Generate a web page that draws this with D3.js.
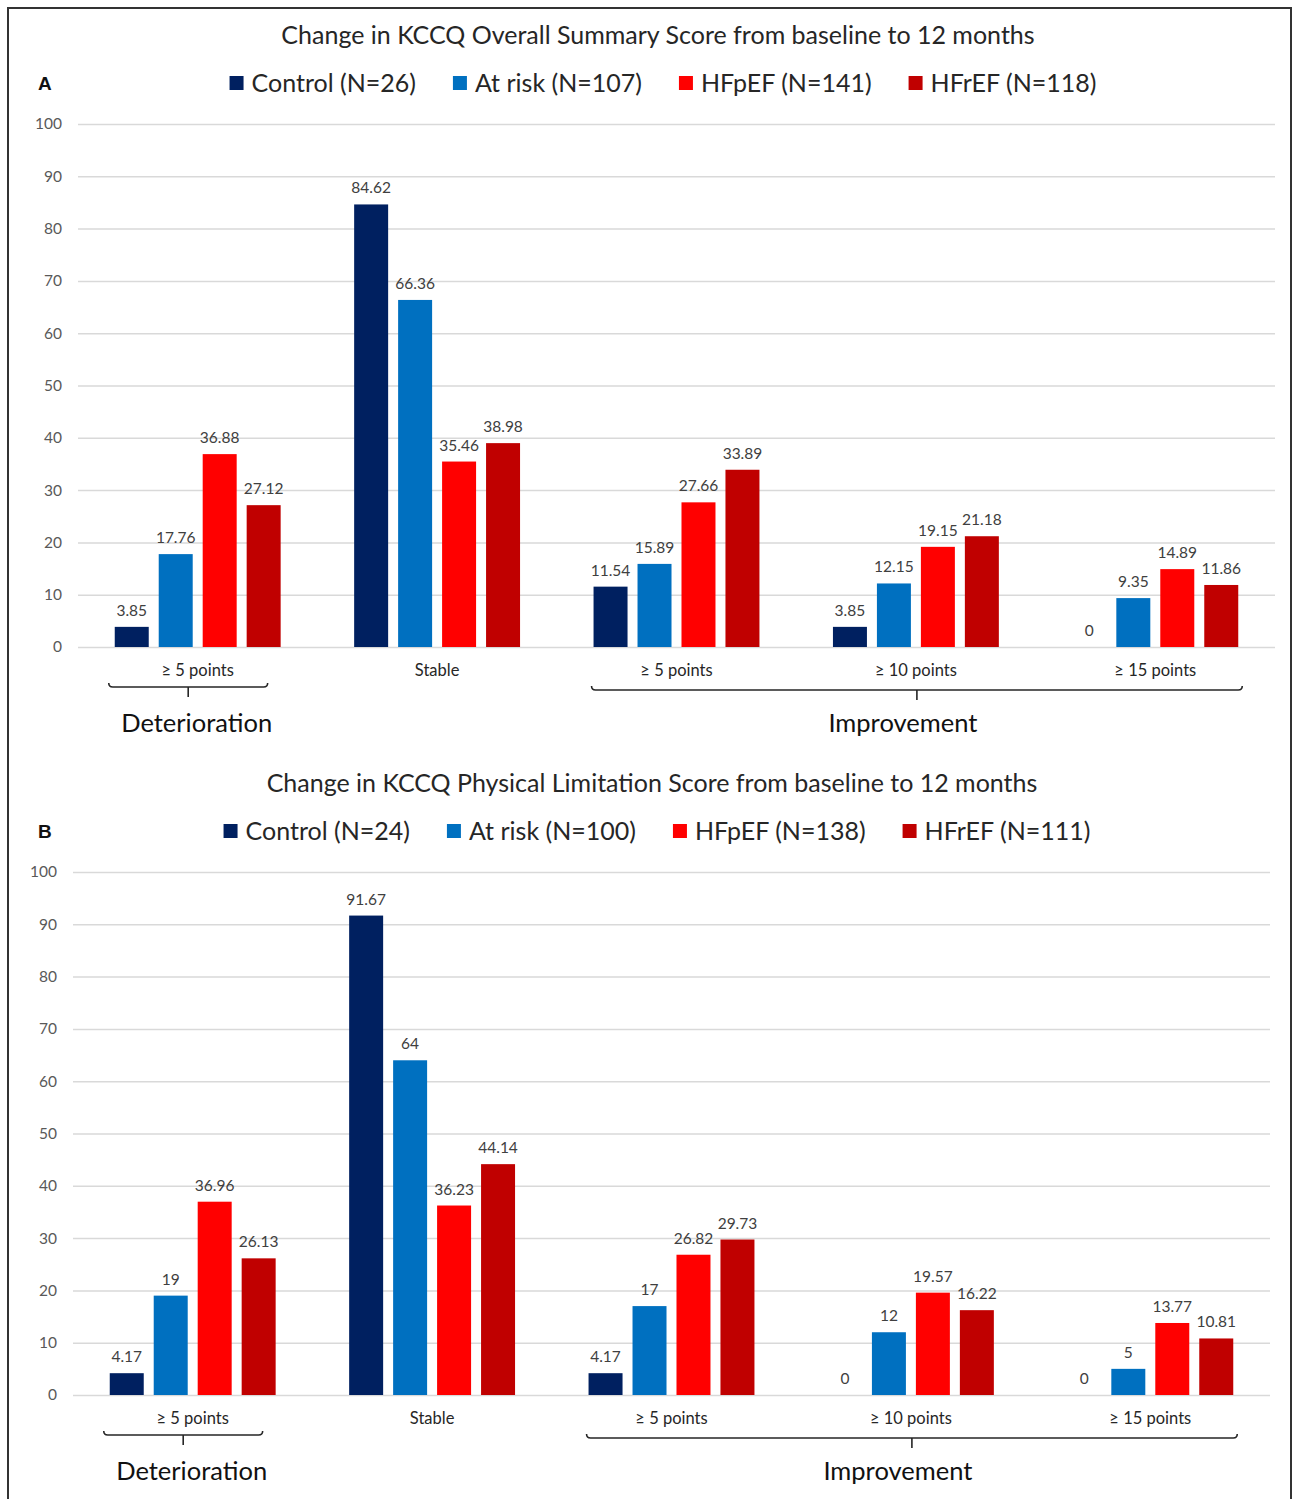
<!DOCTYPE html>
<html>
<head>
<meta charset="utf-8">
<script src="https://cdn.jsdelivr.net/npm/d3@7"></script>
<style>
  html, body { margin: 0; padding: 0; background: #fff; }
  svg { display: block; font-family: Lato, "Open Sans", sans-serif; }
</style>
</head>
<body>
<svg id="fig" width="1293" height="1499"></svg>
<script>
// Response categories along the x axis
const categories = ["≥ 5 points", "Stable", "≥ 5 points ", "≥ 10 points", "≥ 15 points"];
const categoryLabels = ["≥ 5 points", "Stable", "≥ 5 points", "≥ 10 points", "≥ 15 points"];
const seriesKeys = ["Control", "At risk", "HFpEF", "HFrEF"];
const seriesColors = ["#002060", "#0070C0", "#FF0000", "#C00000"];
const yTicks = [0, 10, 20, 30, 40, 50, 60, 70, 80, 90, 100];

// Panel A: KCCQ overall summary score (% of patients)
const titleA = "Change in KCCQ Overall Summary Score from baseline to 12 months";
const legendA = ["Control (N=26)", "At risk (N=107)", "HFpEF (N=141)", "HFrEF (N=118)"];
const controlA = [3.85, 84.62, 11.54, 3.85, 0];
const atRiskA  = [17.76, 66.36, 15.89, 12.15, 9.35];
const hfpefA   = [36.88, 35.46, 27.66, 19.15, 14.89];
const hfrefA   = [27.12, 38.98, 33.89, 21.18, 11.86];

// Panel B: KCCQ physical limitation score (% of patients)
const titleB = "Change in KCCQ Physical Limitation Score from baseline to 12 months";
const legendB = ["Control (N=24)", "At risk (N=100)", "HFpEF (N=138)", "HFrEF (N=111)"];
const controlB = [4.17, 91.67, 4.17, 0, 0];
const atRiskB  = [19, 64, 17, 12, 5];
const hfpefB   = [36.96, 36.23, 26.82, 19.57, 13.77];
const hfrefB   = [26.13, 44.14, 29.73, 16.22, 10.81];

const svg = d3.select("#fig");

// outer frame
svg.append("path")
  .attr("d", "M8,1499 V8 H1291 V1499")
  .attr("fill", "none")
  .attr("stroke", "#333")
  .attr("stroke-width", 2);

function fmt(v) { return String(v); }

function drawPanel(cfg) {
  const g = svg.append("g");
  const { left, right, y0, y100, letter, title, legend, values, legendCenter, titleCenter, top } = cfg;

  const x0 = d3.scaleBand().domain(categories).range([left, right])
    .paddingInner(0.307).paddingOuter(0.1535);
  const x1 = d3.scaleBand().domain(seriesKeys).range([0, x0.bandwidth()])
    .paddingInner(0.227).paddingOuter(0);
  const y = d3.scaleLinear().domain([0, 100]).range([y0, y100]);

  // title
  g.append("text")
    .attr("x", titleCenter).attr("y", top + 36)
    .attr("text-anchor", "middle")
    .attr("font-size", 25).attr("fill", "#262626")
    .text(title);

  // panel letter
  g.append("text")
    .attr("x", 38).attr("y", top + 82)
    .attr("font-size", 19).attr("font-weight", "bold")
    .attr("font-family", "Liberation Sans, Arial, sans-serif")
    .attr("fill", "#111").text(letter);

  // legend
  const lg = g.append("g");
  const items = lg.selectAll("g").data(legend).join("g");
  items.append("rect").attr("width", 14).attr("height", 14)
    .attr("y", top + 68).attr("fill", (d, i) => seriesColors[i]);
  items.append("text").attr("x", 22).attr("y", top + 84)
    .attr("font-size", 25).attr("fill", "#262626").text(d => d);
  let cx = 0;
  const gap = 37;
  items.each(function () {
    const w = d3.select(this).select("text").node().getComputedTextLength() + 22;
    d3.select(this).attr("transform", `translate(${cx},0)`);
    cx += w + gap;
  });
  const totalW = cx - gap;
  lg.attr("transform", `translate(${legendCenter - totalW / 2},0)`);

  // gridlines and y tick labels
  const ax = g.append("g").attr("transform", `translate(${left},0)`)
    .call(d3.axisLeft(y).tickValues(yTicks).tickSize(-(right - left)).tickPadding(16));
  ax.select(".domain").remove();
  ax.selectAll(".tick line").attr("stroke", "#d9d9d9").attr("stroke-width", 1.5);
  ax.selectAll(".tick text").attr("font-size", 15.5).attr("fill", "#595959")
    .attr("font-family", "Lato, sans-serif");

  // bars
  const rows = categories.map((c, i) => ({ cat: c, vals: values.map(s => s[i]) }));
  const grp = g.selectAll(".grp").data(rows).join("g")
    .attr("transform", d => `translate(${x0(d.cat)},0)`);
  grp.selectAll("rect").data(d => d.vals.map((v, k) => ({ v, k })))
    .join("rect")
    .attr("x", d => x1(seriesKeys[d.k]))
    .attr("width", x1.bandwidth())
    .attr("y", d => y(d.v))
    .attr("height", d => y(0) - y(d.v))
    .attr("fill", d => seriesColors[d.k]);
  grp.selectAll("text").data(d => d.vals.map((v, k) => ({ v, k })))
    .join("text")
    .attr("x", d => x1(seriesKeys[d.k]) + x1.bandwidth() / 2)
    .attr("y", d => y(d.v) - 11)
    .attr("text-anchor", "middle")
    .attr("font-size", 15.5).attr("fill", "#404040")
    .text(d => fmt(d.v));

  // category labels
  g.selectAll(".cat").data(categories).join("text")
    .attr("x", d => x0(d) + x0.bandwidth() / 2)
    .attr("y", y0 + 29)
    .attr("text-anchor", "middle")
    .attr("font-size", 16.5).attr("fill", "#262626")
    .text((d, i) => categoryLabels[i]);

  // brackets grouping categories
  function bracket(xa, xb, yb, label) {
    const xm = (xa + xb) / 2;
    g.append("path")
      .attr("d", `M${xa},${yb - 4} Q${xa},${yb} ${xa + 4},${yb} H${xb - 4} Q${xb},${yb} ${xb},${yb - 4} M${xm},${yb} V${yb + 10}`)
      .attr("fill", "none").attr("stroke", "#262626").attr("stroke-width", 1.6);
    g.append("text")
      .attr("x", label.x).attr("y", y0 + 85)
      .attr("text-anchor", "middle")
      .attr("font-size", 25.5).attr("fill", "#111")
      .text(label.text);
  }
  const bw = x0.bandwidth();
  bracket(x0(categories[0]) - 6, x0(categories[0]) + bw - 13, y0 + 40,
    { text: "Deterioration", x: x0(categories[0]) + bw / 2 - 1 });
  bracket(x0(categories[2]) - 2, x0(categories[4]) + bw + 4, y0 + 43,
    { text: "Improvement", x: (x0(categories[2]) + x0(categories[4]) + bw) / 2 - 13 });
}

drawPanel({
  left: 78, right: 1275, y0: 647, y100: 124, top: 8,
  letter: "A", title: titleA, legend: legendA,
  values: [controlA, atRiskA, hfpefA, hfrefA],
  legendCenter: 663, titleCenter: 658
});

drawPanel({
  left: 73, right: 1270, y0: 1395, y100: 872, top: 756,
  letter: "B", title: titleB, legend: legendB,
  values: [controlB, atRiskB, hfpefB, hfrefB],
  legendCenter: 657, titleCenter: 652
});
</script>
</body>
</html>
